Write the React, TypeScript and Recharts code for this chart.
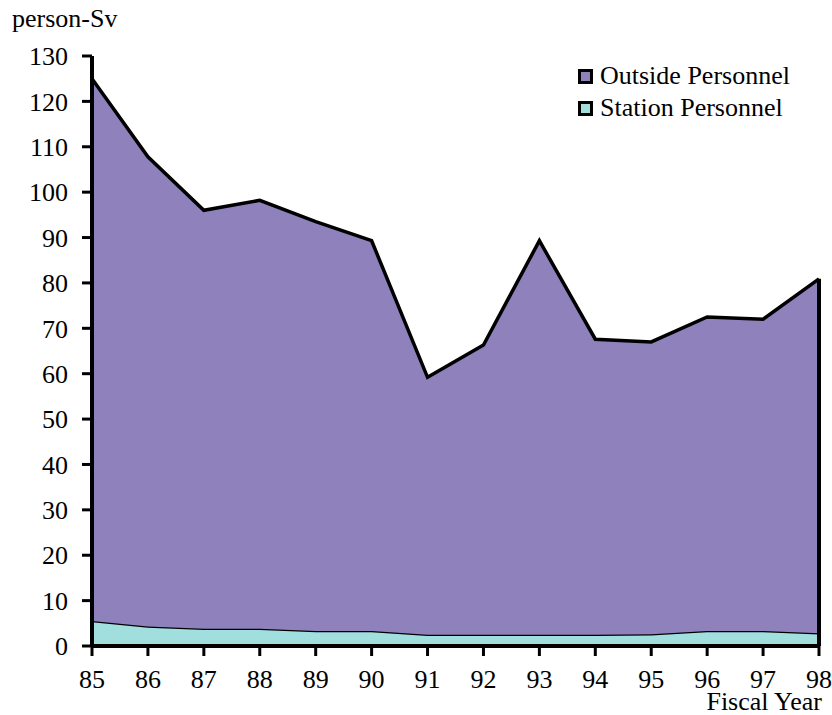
import { AreaChart, Area, XAxis, YAxis, ReferenceLine } from 'recharts'

// fiscal years (19xx)
const years = [85, 86, 87, 88, 89, 90, 91, 92, 93, 94, 95, 96, 97, 98]
// person-Sv
const stationDose = [5.5, 4.3, 3.8, 3.8, 3.3, 3.3, 2.5, 2.5, 2.5, 2.5, 2.6, 3.3, 3.3, 2.8]
const outsideDose = [119.5, 103.5, 92.2, 94.4, 90.2, 86.0, 56.7, 63.8, 86.8, 65.1, 64.4, 69.2, 68.7, 78.1]
const yTicks = [0, 10, 20, 30, 40, 50, 60, 70, 80, 90, 100, 110, 120, 130]
const seriesNames = ['Outside Personnel', 'Station Personnel']

const PURPLE = '#8e81bc'
const CYAN = '#a1dfdf'
const FONT = '"Liberation Serif", "Times New Roman", serif'

const data = years.map((y, i) => ({
  year: y,
  station: stationDose[i],
  outside: outsideDose[i],
}))

const last = data[data.length - 1]

const tickStyle = { fill: '#000', fontSize: 26, fontFamily: FONT }

export default function App() {
  return (
    <div style={{ position: 'absolute', left: 0, top: 0, width: 832, height: 715, background: '#fff' }}>
      <AreaChart
        width={832}
        height={715}
        data={data}
        margin={{ top: 56, right: 13, bottom: 29, left: 0 }}
      >
        <XAxis
          dataKey="year"
          type="number"
          domain={[85, 98]}
          ticks={years}
          height={40}
          tickSize={10}
          tickMargin={14}
          tick={tickStyle}
          axisLine={{ stroke: '#000', strokeWidth: 4 }}
          tickLine={{ stroke: '#000', strokeWidth: 3 }}
        />
        <YAxis
          type="number"
          domain={[0, 130]}
          ticks={yTicks}
          width={92}
          tickSize={10}
          tickMargin={14}
          tick={tickStyle}
          axisLine={{ stroke: '#000', strokeWidth: 4 }}
          tickLine={{ stroke: '#000', strokeWidth: 3 }}
        />
        <Area
          type="linear"
          dataKey="station"
          stackId="1"
          stroke="#000"
          strokeWidth={2.5}
          fill={CYAN}
          fillOpacity={1}
          isAnimationActive={false}
        />
        <Area
          type="linear"
          dataKey="outside"
          stackId="1"
          stroke="#000"
          strokeWidth={3.5}
          fill={PURPLE}
          fillOpacity={1}
          isAnimationActive={false}
        />
        {/* right edge of the stacked area */}
        <ReferenceLine
          segment={[
            { x: last.year, y: 0 },
            { x: last.year, y: last.station + last.outside },
          ]}
          stroke="#000"
          strokeWidth={4}
        />
      </AreaChart>

      <svg
        width={832}
        height={715}
        style={{ position: 'absolute', left: 0, top: 0, pointerEvents: 'none' }}
      >
        <text x={12} y={27} fontSize={26} fontFamily={FONT} fill="#000">
          person-Sv
        </text>
        <text x={822} y={710} fontSize={26} fontFamily={FONT} fill="#000" textAnchor="end">
          Fiscal Year
        </text>
      </svg>

      <div style={{ position: 'absolute', left: 578, top: 60, fontFamily: FONT, fontSize: 26 }}>
        {seriesNames.map((name, i) => (
          <div key={name} style={{ display: 'flex', alignItems: 'center', height: 32, lineHeight: '32px' }}>
            <span
              style={{
                width: 15,
                height: 15,
                boxSizing: 'border-box',
                border: '3px solid #000',
                background: i === 0 ? PURPLE : CYAN,
                marginRight: 7,
              }}
            />
            <span style={{ whiteSpace: 'nowrap' }}>{name}</span>
          </div>
        ))}
      </div>
    </div>
  )
}
